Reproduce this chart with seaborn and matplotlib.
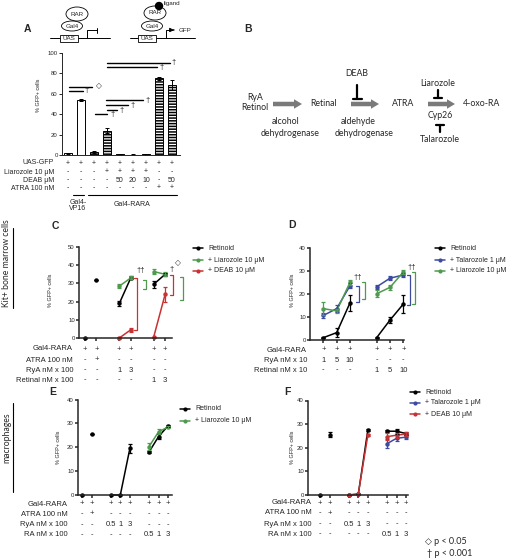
import numpy as np
import pandas as pd
import matplotlib
matplotlib.use("Agg")
import matplotlib.pyplot as plt
from matplotlib import transforms
from matplotlib.patches import Ellipse, Rectangle
import seaborn as sns

nan = np.nan
W, H = 517, 559

sns.set_style("ticks")
plt.rcParams['font.family'] = ['Liberation Sans', 'DejaVu Sans']
plt.rcParams['hatch.color'] = 'black'
plt.rcParams['hatch.linewidth'] = 1.1

# ---------------- data ----------------
# A: % GFP+ cells per condition
a_vals = [1.5, 54, 3, 24, 0.5, 0.4, 0.5, 75, 69]
a_err = [0.6, 0.8, 0.6, 2.2, 0.2, 0.2, 0.2, 1.5, 5]
a_open = [True, True, False, False, False, False, False, False, False]
a_rows = ["UAS-GFP", "Liarozole 10 \u03bcM", "DEAB \u03bcM", "ATRA 100 nM"]
a_table = [["+"] * 9,
           ["-", "-", "-", "+", "+", "+", "+", "-", "-"],
           ["-", "-", "-", "-", "50", "20", "10", "-", "50"],
           ["-", "-", "-", "-", "-", "-", "-", "+", "+"]]
# significance lines: start bar, end bar, level, symbol, symbol position
a_sig = [(0.08, 1.85, 67, "\u25c7", 2.35), (0.08, 1.15, 63, "\u2020", 1.4),
         (2.1, 3.0, 40, "\u2020", 3.4), (3.0, 3.8, 44, "\u2020", 4.15),
         (2.9, 4.6, 49, "\u2020", 5.0), (2.9, 5.8, 53.5, "\u2020", 6.1),
         (3.0, 6.85, 86, "\u2020", 7.2), (3.0, 7.85, 90.5, "\u2020", 8.1)]

# C: Kit+ cells, RyA / retinal
c_rows = ["Gal4-RARA", "ATRA 100 nM", "RyA nM x 100", "Retinal nM x 100"]
c_table = [["+"] * 6,
           ["-", "+", "-", "-", "-", "-"],
           ["-", "-", "1", "3", "-", "-"],
           ["-", "-", "-", "-", "1", "3"]]
c_seg = [0, 1, 2, 2, 3, 3]
c_retinoid = [0, 32, 19, 33, 29.5, 35]
c_retinoid_err = [0, 0, 1.5, 0.8, 2, 0.8]
c_liarozole = [nan, nan, 28.5, 33, 36.5, 35]
c_liarozole_err = [nan, nan, 1.2, 0.8, 1.5, 1]
c_deab = [nan, nan, 0, 4.5, 0.5, 24]
c_deab_err = [nan, nan, 0.3, 1, 0.3, 4]

# D: Kit+ cells, talarozole / liarozole
d_rows = ["Gal4-RARA", "RyA nM x 10", "Retinal nM x 10"]
d_table = [["+"] * 6,
           ["1", "5", "10", "-", "-", "-"],
           ["-", "-", "-", "1", "5", "10"]]
d_seg = [0, 0, 0, 1, 1, 1]
d_retinoid = [0.8, 3, 16, 0.8, 8.5, 15.5]
d_retinoid_err = [0.3, 2, 3.5, 0.3, 1.5, 4]
d_talarozole = [10.5, 13.5, 23.5, 23, 26.8, 28.2]
d_talarozole_err = [1, 1.5, 1, 1, 1, 1]
d_liarozole = [13.5, 12.5, 25, 20, 22.8, 29.5]
d_liarozole_err = [3, 1, 1, 1.5, 1, 1]

# E / F: macrophages
ef_rows = ["Gal4-RARA", "ATRA 100 nM", "RyA nM x 100", "RA nM x 100"]
ef_table = [["+"] * 8,
            ["-", "+", "-", "-", "-", "-", "-", "-"],
            ["-", "-", "0.5", "1", "3", "-", "-", "-"],
            ["-", "-", "-", "-", "-", "0.5", "1", "3"]]
ef_seg = [0, 1, 2, 2, 2, 3, 3, 3]
e_retinoid = [0, 25.5, 0, 0, 19.5, 18, 24.5, 29]
e_retinoid_err = [0, 0, 0, 0, 2, 0.5, 1.2, 0.5]
e_liarozole = [nan, nan, nan, nan, nan, 20.3, 26.5, 28.5]
e_liarozole_err = [nan, nan, nan, nan, nan, 1.5, 1, 0.5]
f_retinoid = [0, 25.5, 0, 0.3, 27.5, 27, 27, 26]
f_retinoid_err = [0, 1, 0, 0, 0.3, 0.5, 1, 0.5]
f_talarozole = [nan, nan, nan, nan, nan, 21.7, 24, 24.5]
f_talarozole_err = [nan, nan, nan, nan, nan, 2, 1.2, 1]
f_deab = [nan, nan, 0, 0.5, 25.3, 24.7, 25.3, 25.8]
f_deab_err = [nan, nan, 0.3, 0.3, 0.5, 1.5, 1, 1]

BLACK, GREEN, RED, BLUE = "black", "#4f9a4f", "#c83232", "#3c4aa0"

# ---------------- figure ----------------
fig = plt.figure(figsize=(W / 100, H / 100), dpi=100)
ov = fig.add_axes([0, 0, 1, 1], zorder=5)
ov.set_xlim(0, W)
ov.set_ylim(H, 0)
ov.axis('off')
ov.patch.set_alpha(0)


def px_ax(x0, y0, x1, y1):
    ax = fig.add_axes([x0 / W, 1 - y1 / H, (x1 - x0) / W, (y1 - y0) / H])
    ax.set_facecolor('none')
    return ax


def style_ax(ax, lw=1.0):
    sns.despine(ax=ax)
    for s in ['left', 'bottom']:
        ax.spines[s].set_linewidth(lw)
    ax.tick_params(labelsize=4.3, length=2, width=lw, pad=1)
    ax.set_xlabel('')
    ax.set_ylabel('')


def table(ax, xpos, rows, cells, ys, right, fs=5.5):
    tr = transforms.blended_transform_factory(ax.transData, ov.transData)
    for r, y in enumerate(ys):
        ov.text(right, y, rows[r], ha='right', va='center', fontsize=fs)
        for x, s in zip(xpos, cells[r]):
            ov.text(x, y, s, transform=tr, ha='center', va='center', fontsize=fs)


def bracket(ax, x, y0, y1, color, tick):
    ax.plot([x - tick, x, x, x - tick], [y0, y0, y1, y1], color=color, lw=0.9, clip_on=False)


def line_panel(rect, xpos, xlim, ymax, seg, series, errs, colors):
    ax = px_ax(*rect)
    frames = [pd.DataFrame({'x': xpos, 'y': v, 'seg': seg, 'series': n}) for n, v in series.items()]
    df = pd.concat(frames).dropna()
    sns.lineplot(data=df, x='x', y='y', hue='series', units='seg', estimator=None,
                 palette=colors, marker='o', markersize=3.2, markeredgewidth=0,
                 linewidth=1.1, sort=False, legend=False, ax=ax)
    for n, v in series.items():
        ax.errorbar(xpos, v, yerr=errs[n], fmt='none', ecolor=colors[n],
                    elinewidth=0.9, capsize=1.4, capthick=0.9)
    ax.set_xlim(*xlim)
    ax.set_ylim(0, ymax)
    ax.set_yticks(range(0, ymax + 1, 10))
    ax.set_xticks(xpos)
    ax.set_xticklabels([])
    style_ax(ax, 1.1)
    for ch in ax.get_children():
        ch.set_clip_on(False)
    return ax


def legend(x, ys, names, colors, fs=5):
    for y, n in zip(ys, names):
        ov.plot([x, x + 10], [y, y], color=colors[n], lw=1.1)
        ov.plot([x + 5], [y], 'o', color=colors[n], ms=3, mew=0)
        ov.text(x + 15, y, n, ha='left', va='center', fontsize=fs)


def ylab(x, y):
    ov.text(x, y, "% GFP+ cells", rotation=90, ha='center', va='center', fontsize=4)


def letter(x, y, s):
    ov.text(x, y, s, ha='center', va='center', fontsize=7.5, fontweight='bold')


# ---------------- panel A ----------------
axA = px_ax(62, 53, 180, 155)
dfA = pd.DataFrame({'bar': range(len(a_vals)), 'pct': a_vals})
sns.barplot(data=dfA, x='bar', y='pct', native_scale=True, color='white',
            edgecolor='black', linewidth=0.7, width=0.68, errorbar=None, ax=axA)
for p, is_open in zip(axA.patches, a_open):
    if not is_open:
        p.set_hatch('------')
axA.errorbar(range(len(a_vals)), a_vals, yerr=a_err, fmt='none', ecolor='black',
             elinewidth=0.7, capsize=1.3, capthick=0.7)
axA.set_xlim(-0.46, 8.62)
axA.set_ylim(0, 100)
axA.set_yticks(range(0, 101, 20))
axA.set_xticks([])
style_ax(axA, 0.7)
for x0, x1, y, sym, sx in a_sig:
    axA.plot([x0, x1], [y, y], color='black', lw=1.0, clip_on=False)
    axA.text(sx, y, sym, ha='center', va='center', fontsize=5.5, clip_on=False)
table(axA, range(9), a_rows, a_table, [163, 172, 180, 188], 54, fs=5)
trA = transforms.blended_transform_factory(axA.transData, ov.transData)
ov.plot([0.4, 1.2], [195, 195], color='black', lw=0.8, transform=trA)
ov.plot([1.55, 8.4], [195, 195], color='black', lw=0.8, transform=trA)
ov.text(78, 202, "Gal4-", ha='center', va='center', fontsize=5)
ov.text(78, 208.5, "VP16", ha='center', va='center', fontsize=5)
ov.text(132, 205, "Gal4-RARA", ha='center', va='center', fontsize=5)
ylab(39, 95)
letter(27, 29, "A")

# reporter diagrams
for (cx, ux, rx, ry) in [(72, 60, 77, 14), (152, 138, 155, 13)]:
    ov.add_patch(Ellipse((rx, ry), 22, 14, fc='white', ec='black', lw=0.6, zorder=3))
    ov.text(rx, ry, "RAR", ha='center', va='center', fontsize=4.5, zorder=4)
    ov.add_patch(Ellipse((cx, 26), 21, 10, fc='white', ec='black', lw=0.6, zorder=3))
    ov.text(cx, 26, "Gal4", ha='center', va='center', fontsize=4.5, zorder=4)
    ov.add_patch(Rectangle((ux, 35), 18, 7, fc='white', ec='black', lw=0.6, zorder=3))
    ov.text(ux + 9, 38.5, "UAS", ha='center', va='center', fontsize=4.5, zorder=4)
ov.plot([50, 110], [38, 38], color='black', lw=0.7, zorder=2)
ov.plot([130, 195], [38, 38], color='black', lw=0.7, zorder=2)
ov.plot([87, 87, 97], [38, 30, 30], color='black', lw=0.7)
ov.plot([97, 97], [27.5, 32.5], color='black', lw=0.7)
ov.plot([166, 166, 172], [38, 30, 30], color='black', lw=0.7)
ov.annotate("", xy=(177, 30), xytext=(171, 30),
            arrowprops=dict(arrowstyle='-|>,head_width=0.12,head_length=0.25', color='black', lw=0.7))
ov.text(179, 30, "GFP", ha='left', va='center', fontsize=4.5)
ov.add_patch(Ellipse((159, 6), 7, 7, fc='black', ec='black', zorder=5))
ov.text(164, 4, "ligand", ha='left', va='center', fontsize=4.5)

# ---------------- panel B ----------------
letter(248, 29, "B")
BF = ['Lato', 'DejaVu Sans']
GREY = '#7a7a7a'
for x0, x1 in [(273, 302), (351, 379), (428, 455)]:
    ov.arrow(x0, 104, x1 - x0, 0, width=4.5, head_width=9.5, head_length=8,
             length_includes_head=True, color=GREY, lw=0)
for x, y, s in [(255, 97, "RyA"), (255, 108, "Retinol"), (324, 104, "Retinal"),
                (403, 104, "ATRA"), (481, 104, "4-oxo-RA"), (357, 73, "DEAB"),
                (438, 83, "Liarozole"), (440, 115, "Cyp26"), (440, 140, "Talarozole"),
                (286, 122, "alcohol"), (290, 133, "dehydrogenase"),
                (358, 122, "aldehyde"), (364, 133, "dehydrogenase")]:
    ov.text(x, y, s, ha='center', va='center', fontsize=6.3, family=BF)
ov.plot([357, 357], [85, 99], color='black', lw=1.6)
ov.plot([352.5, 361.5], [99, 99], color='black', lw=1.6)
ov.plot([437.5, 437.5], [90, 98], color='black', lw=1.6)
ov.plot([433.5, 441.5], [98, 98], color='black', lw=1.6)
ov.plot([436, 444], [125, 125], color='black', lw=1.6)
ov.plot([440, 440], [125, 132], color='black', lw=1.6)

# ---------------- panel C ----------------
c_names = ["Retinoid", "+ Liarozole 10 \u03bcM", "+ DEAB 10 \u03bcM"]
c_cols = dict(zip(c_names, [BLACK, GREEN, RED]))
c_x = [0, 1, 3, 4, 6, 7]
axC = line_panel((79, 247, 172, 338), c_x, (-0.52, 7.6), 50, c_seg,
                 dict(zip(c_names, [c_retinoid, c_liarozole, c_deab])),
                 dict(zip(c_names, [c_retinoid_err, c_liarozole_err, c_deab_err])), c_cols)
bracket(axC, 4.55, 4.5, 33, RED, 0.3)
bracket(axC, 5.34, 27, 32, GREEN, 0.3)
bracket(axC, 7.7, 23.5, 34.5, RED, 0.3)
bracket(axC, 8.57, 21, 33.5, GREEN, 0.3)
axC.text(4.9, 37, "\u2020\u2020", ha='center', va='center', fontsize=5.5, clip_on=False)
axC.text(7.6, 37.5, "\u2020", ha='center', va='center', fontsize=5.5, clip_on=False)
axC.text(8.1, 41, "\u25c7", ha='center', va='center', fontsize=5.5, clip_on=False)
table(axC, c_x, c_rows, c_table, [349, 360, 370, 380], 73)
legend(193, [248, 260, 271], c_names, c_cols)
ylab(50, 290)
letter(55, 226, "C")

# ---------------- panel D ----------------
d_names = ["Retinoid", "+ Talarozole 1 \u03bcM", "+ Liarozole 10 \u03bcM"]
d_cols = dict(zip(d_names, [BLACK, BLUE, GREEN]))
d_x = [0, 1, 2, 4, 5, 6]
axD = line_panel((310, 248, 404, 339.5), d_x, (-1.0, 6.05), 40, d_seg,
                 dict(zip(d_names, [d_retinoid, d_talarozole, d_liarozole])),
                 dict(zip(d_names, [d_retinoid_err, d_talarozole_err, d_liarozole_err])), d_cols)
bracket(axD, 2.69, 16.5, 23.5, BLUE, 0.27)
bracket(axD, 3.14, 17.5, 25, GREEN, 0.27)
bracket(axD, 6.53, 15, 28, BLUE, 0.27)
bracket(axD, 6.9, 15.5, 29.5, GREEN, 0.27)
axD.text(2.6, 27, "\u2020\u2020", ha='center', va='center', fontsize=5.5, clip_on=False)
axD.text(6.6, 31.5, "\u2020\u2020", ha='center', va='center', fontsize=5.5, clip_on=False)
table(axD, d_x, d_rows, d_table, [350, 360, 370], 307)
legend(435, [248, 260, 271], d_names, d_cols)
ylab(293, 290)
letter(292, 225, "D")

# ---------------- panel E ----------------
e_names = ["Retinoid", "+ Liarozole 10 \u03bcM"]
e_cols = dict(zip(e_names, [BLACK, GREEN]))
ef_x = [0, 1, 3, 4, 5, 7, 8, 9]
axE = line_panel((78, 399.5, 172, 495), ef_x, (-0.42, 9.4), 40, ef_seg,
                 dict(zip(e_names, [e_retinoid, e_liarozole])),
                 dict(zip(e_names, [e_retinoid_err, e_liarozole_err])), e_cols)
table(axE, ef_x, ef_rows, ef_table, [504, 514, 525, 535], 68)
legend(180, [409, 421], e_names, e_cols)
ylab(58, 447)
letter(53, 392, "E")

# ---------------- panel F ----------------
f_names = ["Retinoid", "+ Talarozole 1 \u03bcM", "+ DEAB 10 \u03bcM"]
f_cols = dict(zip(f_names, [BLACK, BLUE, RED]))
axF = line_panel((308, 400.5, 408, 495), ef_x, (-1.26, 9.2), 40, ef_seg,
                 dict(zip(f_names, [f_retinoid, f_talarozole, f_deab])),
                 dict(zip(f_names, [f_retinoid_err, f_talarozole_err, f_deab_err])), f_cols)
table(axF, ef_x, ef_rows, ef_table, [503, 513, 524, 534], 312)
legend(410, [392, 403, 414], f_names, f_cols)
ylab(293, 447)
letter(287, 392, "F")

# side labels and p-value key
ov.text(7, 263, "Kit+ bone marrow cells", rotation=90, ha='center', va='center', fontsize=6.2, family=BF)
ov.plot([12.5, 12.5], [228, 308], color='black', lw=0.8)
ov.text(7, 438, "macrophages", rotation=90, ha='center', va='center', fontsize=6.2, family=BF)
ov.plot([12.5, 12.5], [403, 492], color='black', lw=0.8)
ov.text(425, 542, "\u25c7 p < 0.05", ha='left', va='center', fontsize=6.5, family=BF)
ov.text(427, 554, "\u2020 p < 0.001", ha='left', va='center', fontsize=6.5, family=BF)

fig.savefig("out.png", dpi=100)
